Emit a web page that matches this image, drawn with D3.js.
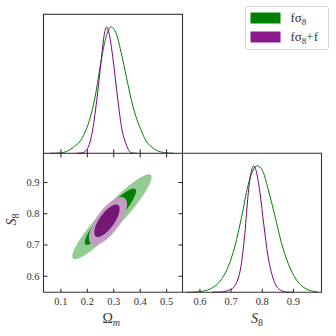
<!DOCTYPE html>
<html>
<head>
<meta charset="utf-8">
<script src="https://cdn.jsdelivr.net/npm/d3@7"></script>
<style>
  html, body { margin: 0; padding: 0; background: #fff; }
  .tick line { stroke: #222; }
</style>
</head>
<body>
<svg id="chart" width="336" height="336" font-family="Liberation Serif, DejaVu Serif, serif"></svg>
<script>
// tick labels
const omTicks = [0.1, 0.2, 0.3, 0.4, 0.5];
const s8Ticks = [0.6, 0.7, 0.8, 0.9];

// 1D marginal of Omega_m (peak = 1)
const omGrid1 = [0.06, 0.10, 0.144, 0.181, 0.206, 0.231, 0.25, 0.269, 0.291, 0.312, 0.331, 0.35, 0.375, 0.40, 0.431, 0.494, 0.53];
const omFs8 = [0, 0.003, 0.04, 0.118, 0.236, 0.445, 0.68, 0.89, 1.0, 0.943, 0.786, 0.60, 0.366, 0.209, 0.079, 0.005, 0];
const omGrid2 = [0.16, 0.181, 0.2, 0.219, 0.2375, 0.254, 0.266, 0.275, 0.285, 0.30, 0.316, 0.331, 0.35, 0.369, 0.39];
const omFs8f = [0, 0.003, 0.03, 0.15, 0.42, 0.73, 0.94, 1.0, 0.94, 0.73, 0.445, 0.21, 0.065, 0.003, 0];

// 1D marginal of S8 (bottom-right panel)
const s8Grid1 = [0.56, 0.60, 0.634, 0.666, 0.693, 0.714, 0.735, 0.756, 0.772, 0.786, 0.802, 0.82, 0.842, 0.863, 0.884, 0.911, 0.943, 0.98];
const s8Fs8 = [0, 0.005, 0.026, 0.088, 0.207, 0.367, 0.593, 0.846, 0.966, 1.0, 0.966, 0.82, 0.607, 0.393, 0.234, 0.10, 0.026, 0.002];
const s8Grid2 = [0.64, 0.666, 0.698, 0.719, 0.735, 0.746, 0.756, 0.765, 0.775, 0.783, 0.794, 0.807, 0.82, 0.836, 0.858, 0.879, 0.9];
const s8Fs8f = [0, 0.002, 0.02, 0.074, 0.234, 0.473, 0.766, 0.94, 1.0, 0.952, 0.792, 0.527, 0.287, 0.114, 0.02, 0.002, 0];

// 2D contours: centre, half extents in each parameter, correlation
const contourNames = ["fs8 95%", "fs8 68%", "fs8+f 95%", "fs8+f 68%"];
const contourOm = [0.295, 0.289, 0.280, 0.276];
const contourS8 = [0.789, 0.789, 0.775, 0.776];
const contourHalfOm = [0.150, 0.097, 0.072, 0.048];
const contourHalfS8 = [0.136, 0.090, 0.077, 0.052];
const contourRho = [0.93, 0.91, 0.70, 0.72];
const contourFill = ["#92cc92", "#008000", "#c29dc2", "#731873"];

const svg = d3.select("#chart");
const x0 = 43.5, size = 139, topY = 14.3;
const x1 = x0 + size, y1 = topY + size, y2 = y1 + size;

const xOm = d3.scaleLinear().domain([0.036, 0.562]).range([x0, x1]);
const yS8 = d3.scaleLinear().domain([0.547, 0.992]).range([y2, y1]);
const xS8 = d3.scaleLinear().domain([0.5456, 0.9918]).range([x1, x1 + size]);
const yTop = d3.scaleLinear().domain([0, 1.1]).range([y1, topY]);
const yBot = d3.scaleLinear().domain([0, 1.1]).range([y2, y1]);

const fmt = d3.format(".1f");

// contours
const contourLayer = svg.append("g");
contourNames.forEach((name, i) => {
  const s = Math.sqrt(1 - contourRho[i] * contourRho[i]);
  const pts = d3.range(0, 2 * Math.PI, Math.PI / 90).map(t => [
    contourOm[i] + contourHalfOm[i] * Math.cos(t),
    contourS8[i] + contourHalfS8[i] * (contourRho[i] * Math.cos(t) + s * Math.sin(t))
  ]);
  contourLayer.append("path")
    .attr("d", d3.line().x(d => xOm(d[0])).y(d => yS8(d[1])).curve(d3.curveLinearClosed)(pts))
    .attr("fill", contourFill[i]);
});

// 1D curves
const lineOm = d3.line().x(d => xOm(d[0])).y(d => yTop(d[1])).curve(d3.curveMonotoneX);
const lineS8 = d3.line().x(d => xS8(d[0])).y(d => yBot(d[1])).curve(d3.curveMonotoneX);
svg.append("path").attr("d", lineOm(d3.zip(omGrid1, omFs8)))
  .attr("fill", "none").attr("stroke", "#008000").attr("stroke-width", 1);
svg.append("path").attr("d", lineOm(d3.zip(omGrid2, omFs8f)))
  .attr("fill", "none").attr("stroke", "#800080").attr("stroke-width", 1);
svg.append("path").attr("d", lineS8(d3.zip(s8Grid1, s8Fs8)))
  .attr("fill", "none").attr("stroke", "#008000").attr("stroke-width", 1);
svg.append("path").attr("d", lineS8(d3.zip(s8Grid2, s8Fs8f)))
  .attr("fill", "none").attr("stroke", "#800080").attr("stroke-width", 1);

// axes (ticks point inward)
const noLabel = () => "";
svg.append("g").attr("transform", `translate(0,${y1})`)
  .call(d3.axisBottom(xOm).tickValues(omTicks).tickSize(-4).tickSizeOuter(0).tickFormat(noLabel));
svg.append("g").attr("transform", `translate(0,${y1})`)
  .call(d3.axisBottom(xOm).tickValues(omTicks).tickSize(4).tickSizeOuter(0).tickFormat(noLabel));
svg.append("g").attr("transform", `translate(0,${y2})`)
  .call(d3.axisBottom(xOm).tickValues(omTicks).tickSize(-3.5).tickSizeOuter(0).tickPadding(5.5).tickFormat(fmt));
svg.append("g").attr("transform", `translate(${x0},0)`)
  .call(d3.axisLeft(yS8).tickValues(s8Ticks).tickSize(-4).tickSizeOuter(0).tickPadding(4).tickFormat(fmt));
svg.append("g").attr("transform", `translate(${x1},0)`)
  .call(d3.axisRight(yS8).tickValues(s8Ticks).tickSize(-4).tickSizeOuter(0).tickFormat(noLabel));
svg.append("g").attr("transform", `translate(0,${y2})`)
  .call(d3.axisBottom(xS8).tickValues(s8Ticks).tickSize(-3.5).tickSizeOuter(0).tickPadding(5.5).tickFormat(fmt));
svg.selectAll(".domain").remove();
svg.selectAll(".tick").select(function () { return this.parentNode; })
  .attr("font-family", "Liberation Serif, serif").attr("font-size", 10.5);
svg.selectAll(".tick text").attr("fill", "#333");

// frames
const frame = "#333";
svg.append("rect").attr("x", x0).attr("y", topY).attr("width", size).attr("height", size)
  .attr("fill", "none").attr("stroke", frame).attr("stroke-width", 1.1);
svg.append("path").attr("d", `M${x0},${y1}V${y2}H${x1 + size}V${y1}H${x1}V${y2}`)
  .attr("fill", "none").attr("stroke", frame).attr("stroke-width", 1.1);

// axis labels
const lab = svg.append("g").attr("font-size", 14).attr("fill", "#333");
const om = lab.append("text").attr("x", xOm(0.3) - 2).attr("y", 323).attr("text-anchor", "middle");
om.append("tspan").text("Ω");
om.append("tspan").attr("font-style", "italic").attr("font-size", 10).attr("dy", 3).text("m");
const s8b = lab.append("text").attr("x", xS8(0.785)).attr("y", 323).attr("text-anchor", "middle");
s8b.append("tspan").attr("font-style", "italic").text("S");
s8b.append("tspan").attr("font-size", 10).attr("dy", 3).text("8");
const s8l = lab.append("text").attr("transform", `translate(16,${yS8(0.78)}) rotate(-90)`).attr("text-anchor", "middle");
s8l.append("tspan").attr("font-style", "italic").text("S");
s8l.append("tspan").attr("font-size", 10).attr("dy", 3).text("8");

// legend
const legendNames = ["fσ", "fσ"];
const legendSuffix = ["", "+f"];
const legendColors = ["#008000", "#8b1a8b"];
const leg = svg.append("g").attr("transform", "translate(245.5,6.5)");
leg.append("rect").attr("width", 83).attr("height", 43).attr("rx", 2.5)
  .attr("fill", "#fff").attr("stroke", "#d6d6d6").attr("stroke-width", 1);
legendNames.forEach((n, i) => {
  leg.append("rect").attr("x", 5).attr("y", 6 + i * 19).attr("width", 30).attr("height", 11)
    .attr("fill", legendColors[i]);
  const t = leg.append("text").attr("x", 45).attr("y", 15.5 + i * 19).attr("font-size", 13).attr("fill", "#333");
  t.append("tspan").text(n);
  t.append("tspan").attr("font-size", 9).attr("dy", 2.5).text("8");
  t.append("tspan").attr("dy", -2.5).text(legendSuffix[i]);
});
</script>
</body>
</html>
